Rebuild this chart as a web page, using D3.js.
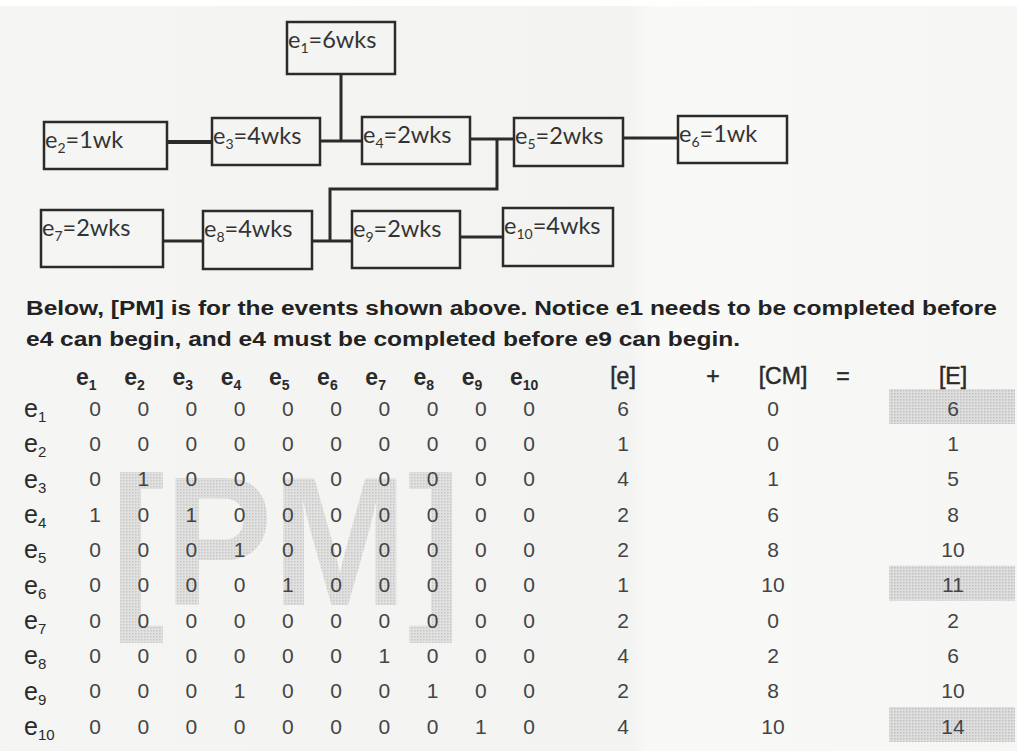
<!DOCTYPE html>
<html>
<head>
<meta charset="utf-8">
<script src="https://cdn.jsdelivr.net/npm/d3@7/dist/d3.min.js"></script>
<style>
  html, body { margin: 0; padding: 0; background: #ffffff; }
  svg { display: block; }
</style>
</head>
<body>
<svg id="chart" width="1017" height="751"></svg>
<script>
// ---------------- DATA ----------------
const events = ["e1","e2","e3","e4","e5","e6","e7","e8","e9","e10"];
const durations = [6, 1, 4, 2, 2, 1, 2, 4, 2, 4];           // weeks, shown in boxes and as [e]
const durationUnits = ["wks","wk","wks","wks","wks","wk","wks","wks","wks","wks"];
// precedence matrix [PM]: row i has 1 in column j when ej must finish before ei
const pmRows = [
  [0,0,0,0,0,0,0,0,0,0],
  [0,0,0,0,0,0,0,0,0,0],
  [0,1,0,0,0,0,0,0,0,0],
  [1,0,1,0,0,0,0,0,0,0],
  [0,0,0,1,0,0,0,0,0,0],
  [0,0,0,0,1,0,0,0,0,0],
  [0,0,0,0,0,0,0,0,0,0],
  [0,0,0,0,0,0,1,0,0,0],
  [0,0,0,1,0,0,0,1,0,0],
  [0,0,0,0,0,0,0,0,1,0]
];
const cmValues = [0, 0, 1, 6, 8, 10, 0, 2, 8, 10];
const eTotals  = [6, 1, 5, 8, 10, 11, 2, 6, 10, 14];
const highlighted = ["e1", "e6", "e10"];
const rightHeaders = ["[e]", "+", "[CM]", "=", "[E]"];
const captionLines = [
  "Below, [PM] is for the events shown above. Notice e1 needs to be completed before",
  "e4 can begin, and e4 must be completed before e9 can begin."
];
// network links (predecessor -> successor)
const links = [["e2","e3"],["e3","e4"],["e1","e4"],["e4","e5"],["e5","e6"],
               ["e7","e8"],["e8","e9"],["e4","e9"],["e9","e10"]];

// ---------------- LAYOUT ----------------
const boxLayout = {
  e1:{x:287,y:22,w:108,h:52},
  e2:{x:44,y:122,w:123,h:47},
  e3:{x:212,y:118,w:108,h:47},
  e4:{x:362,y:117,w:108,h:47},
  e5:{x:514,y:118,w:109,h:48},
  e6:{x:678,y:116,w:109,h:47},
  e7:{x:41,y:210,w:122,h:57},
  e8:{x:203,y:211,w:109,h:58},
  e9:{x:352,y:211,w:108,h:57},
  e10:{x:503,y:208,w:110,h:58}
};

const svg = d3.select("#chart");

// background (scanned paper)
const defs = svg.append("defs");
const bg = defs.append("linearGradient").attr("id","paper").attr("x1","0").attr("x2","1");
bg.append("stop").attr("offset","0").attr("stop-color","#f5f5f3");
bg.append("stop").attr("offset","0.62").attr("stop-color","#f3f3f1");
bg.append("stop").attr("offset","0.64").attr("stop-color","#f9f9f8");
bg.append("stop").attr("offset","1").attr("stop-color","#f6f6f5");
svg.append("rect").attr("width",1017).attr("height",751).attr("fill","url(#paper)");
svg.append("rect").attr("width",1017).attr("height",6).attr("fill","#ffffff");

// halftone patterns
const pat = defs.append("pattern").attr("id","halftone").attr("width",3).attr("height",3)
  .attr("patternUnits","userSpaceOnUse");
pat.append("rect").attr("width",3).attr("height",3).attr("fill","#dedede");
pat.append("rect").attr("width",1.5).attr("height",1.5).attr("fill","#c0c0c0");

// ---------------- NETWORK DIAGRAM ----------------
function linkPath(a, b) {
  const A = boxLayout[a], B = boxLayout[b];
  if (a === "e1") { // vertical drop from e1 into the e3-e4 connector
    const x = d3.mean([boxLayout.e3.x + boxLayout.e3.w, B.x]);
    return [[x, A.y + A.h],[x, 141]];
  }
  if (a === "e4" && b === "e9") {
    const jx = 497, jy = 189, x2 = 330;
    return [[jx, 139],[jx, jy],[x2, jy],[x2, 241]];
  }
  const y = {e2:142,e3:141,e4:139,e5:138,e7:241,e8:241,e9:237}[a];
  return [[A.x + A.w, y],[B.x, y]];
}
const line = d3.line();
svg.append("g").selectAll("path").data(links).join("path")
  .attr("d", d => line(linkPath(d[0], d[1])))
  .attr("fill","none").attr("stroke","#2b2b2b")
  .attr("stroke-width", d => d[0]==="e2" ? 4 : 3);

const boxes = svg.append("g").selectAll("g").data(events).join("g");
boxes.append("rect")
  .attr("x", d => boxLayout[d].x).attr("y", d => boxLayout[d].y)
  .attr("width", d => boxLayout[d].w).attr("height", d => boxLayout[d].h)
  .attr("fill","none").attr("stroke","#2b2b2b").attr("stroke-width",2.5);
const btxt = boxes.append("text")
  .attr("x", d => boxLayout[d].x + 1).attr("y", d => boxLayout[d].y + 26)
  .attr("font-family","Lato, 'Open Sans', sans-serif").attr("font-size",23.5)
  .attr("fill","#333");
btxt.append("tspan").text("e");
btxt.append("tspan").attr("font-size",14).attr("dy",5).text(d => d.slice(1));
btxt.append("tspan").attr("dy",-5).text((d,i) => "=" + durations[i] + durationUnits[i]);

// ---------------- CAPTION ----------------
const capW = [971, 714];
svg.append("g").selectAll("text").data(captionLines).join("text")
  .attr("x", 26).attr("y", (d,i) => 315 + i*31)
  .attr("font-family","'Liberation Sans Narrow', 'Arial Narrow', 'Liberation Sans', sans-serif")
  .attr("font-weight","bold").attr("font-size",20).attr("fill","#222")
  .attr("textLength",(d,i)=>capW[i]).attr("lengthAdjust","spacingAndGlyphs")
  .text(d => d);

// ---------------- MATRIX ----------------
const xCol = d3.scalePoint().domain(events).range([95, 529]);
const yRow = d3.scalePoint().domain(events).range([408, 726]);

// watermark [PM]
svg.append("text").attr("x",111).attr("y",605)
  .attr("font-family","'Liberation Sans', Arial, sans-serif").attr("font-size",184)
  .attr("font-weight","bold")
  .attr("textLength",350).attr("lengthAdjust","spacingAndGlyphs")
  .attr("fill","url(#halftone)").attr("opacity",0.85).text("[PM]");

// column headers
const colH = svg.append("g").selectAll("text").data(events).join("text")
  .attr("x", d => xCol(d) - 19).attr("y", 385)
  .attr("font-family","'Liberation Sans', Arial, sans-serif").attr("font-size",23)
  .attr("font-weight","bold").attr("fill","#2a2a2a");
colH.append("tspan").text("e");
colH.append("tspan").attr("font-size",14).attr("dy",5).text(d => d.slice(1));

// row labels
const rowH = svg.append("g").selectAll("text").data(events).join("text")
  .attr("x", 24).attr("y", d => yRow(d) + 9)
  .attr("font-family","'Liberation Sans', Arial, sans-serif").attr("font-size",25)
  .attr("fill","#2a2a2a");
rowH.append("tspan").text("e");
rowH.append("tspan").attr("font-size",15).attr("dy",5).text(d => d.slice(1));

// cells
const cells = [];
pmRows.forEach((row, i) => row.forEach((v, j) => cells.push({r: events[i], c: events[j], v})));
svg.append("g").selectAll("text").data(cells).join("text")
  .attr("x", d => xCol(d.c)).attr("y", d => yRow(d.r) + 7.5)
  .attr("text-anchor","middle")
  .attr("font-family","'Liberation Sans', Arial, sans-serif").attr("font-size",21)
  .attr("fill","#444").text(d => d.v);

// ---------------- RIGHT COLUMNS ----------------
const xRight = d3.scaleOrdinal().domain(rightHeaders).range([623, 713, 783, 843, 953]);
const xRightVals = {e: 623, cm: 773, E: 953};

svg.append("g").selectAll("rect").data(highlighted).join("rect")
  .attr("x", 889).attr("width", 126)
  .attr("y", d => yRow(d) - 19).attr("height", 35)
  .attr("fill","url(#halftone)");

svg.append("g").selectAll("text").data(rightHeaders).join("text")
  .attr("x", d => xRight(d)).attr("y", 384).attr("text-anchor","middle")
  .attr("font-family","'Liberation Sans', Arial, sans-serif").attr("font-size",23)
  .attr("fill","#2a2a2a").attr("stroke","#2a2a2a").attr("stroke-width",0.5)
  .text(d => d);

const rightCols = [
  {key:"e", vals: durations},
  {key:"cm", vals: cmValues},
  {key:"E", vals: eTotals}
];
rightCols.forEach(col => {
  svg.append("g").selectAll("text").data(col.vals).join("text")
    .attr("x", xRightVals[col.key]).attr("y", (d,i) => yRow(events[i]) + 7.5)
    .attr("text-anchor","middle")
    .attr("font-family","'Liberation Sans', Arial, sans-serif").attr("font-size",21)
    .attr("fill","#444").text(d => d);
});
</script>
</body>
</html>
